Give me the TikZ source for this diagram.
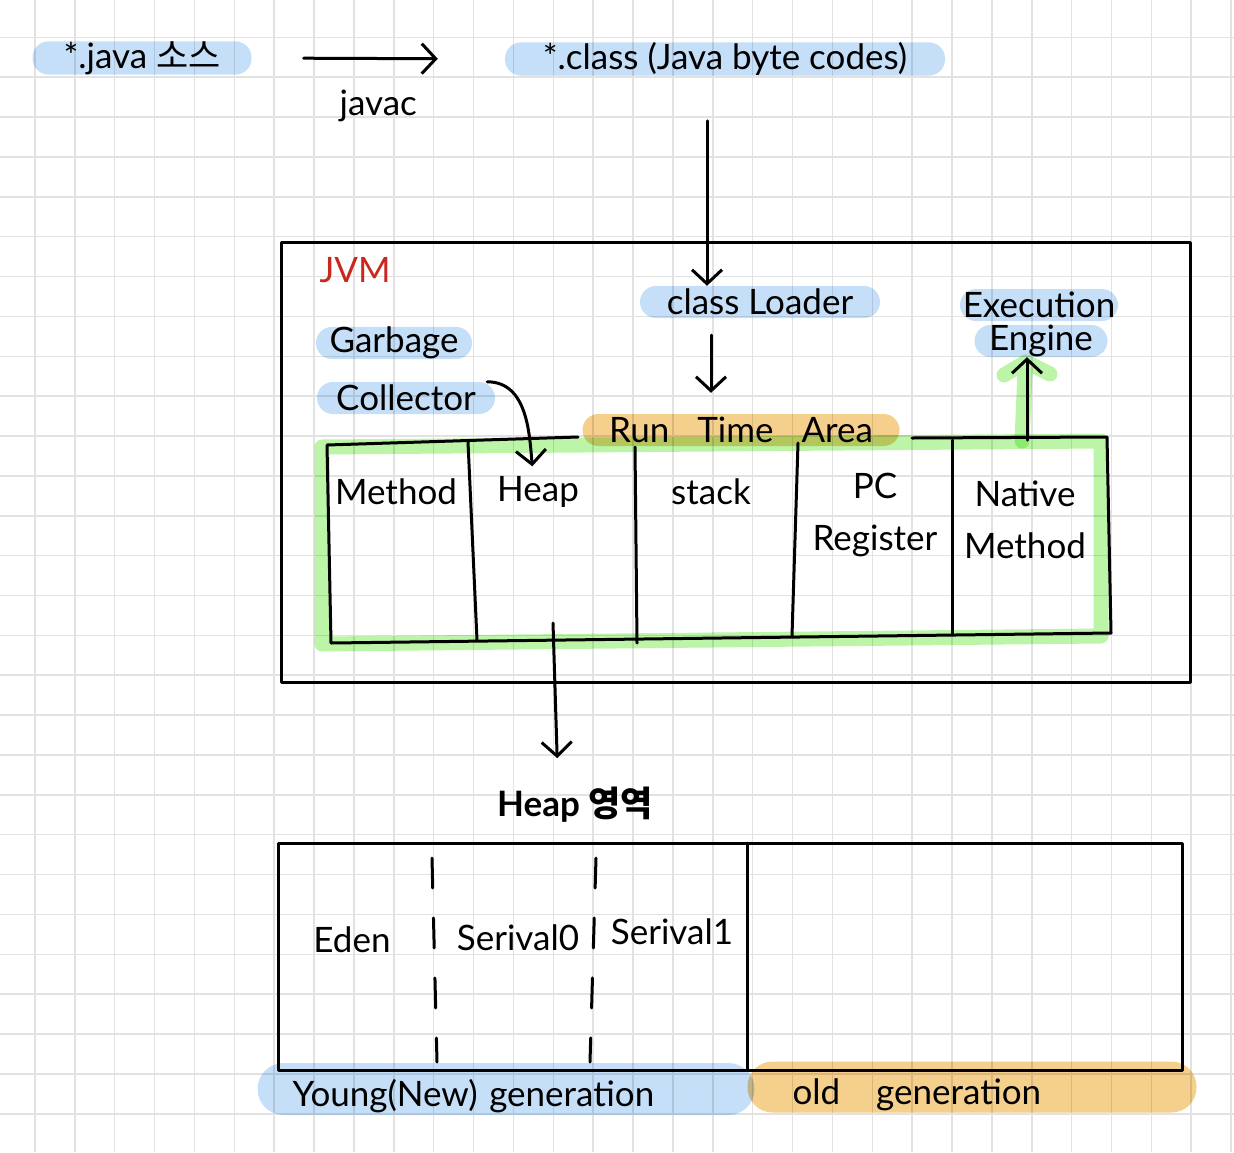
\documentclass[tikz,border=0pt]{standalone}
\usepackage{fontspec}
\setmainfont{Lato}
\newfontfamily\krfont{Noto Sans CJK KR}
\usetikzlibrary{arrows.meta}
\definecolor{markblue}{RGB}{197,223,248}
\definecolor{markorange}{RGB}{245,207,140}
\definecolor{markgreen}{RGB}{188,245,168}
\definecolor{gridgray}{RGB}{226,226,226}
\definecolor{jvmred}{RGB}{200,40,30}
\pgfdeclarelayer{gridlayer}
\pgfdeclarelayer{marklayer}
\pgfsetlayers{gridlayer,marklayer,main}
\newcommand{\hand}{\fontsize{35}{52}\selectfont}
\tikzstyle{ink}=[draw=black, line width=3pt, line cap=round, line join=round]
\tikzstyle{hand arrow}=[ink, -{Straight Barb[length=14pt, width=30pt]}]
\tikzstyle{hand text}=[font=\hand, inner sep=2pt]
\tikzstyle{blue mark}=[fill=markblue, blend mode=multiply, rounded corners=16pt, font=\hand, inner sep=0pt, minimum height=32pt]
\tikzstyle{orange mark}=[blue mark, fill=markorange]
\tikzstyle{green mark}=[draw=markgreen, line width=15pt, line cap=round, line join=round, blend mode=multiply]
\tikzstyle{grid line}=[draw=gridgray, line width=1.5pt]

\begin{document}
\begin{tikzpicture}[x=1pt, y=-1pt]
	\useasboundingbox (0,0) rectangle (1234,1152);
	\begin{pgfonlayer}{gridlayer}
		\begin{scope}
			\clip (0,0) rectangle (1234,1152);
			\foreach \k in {0,...,30} {
				\draw [style=grid line] (35+39.87*\k, 0) -- (35+39.87*\k, 1152);
				\draw [style=grid line] (0, 37.3+39.87*\k) -- (1234, 37.3+39.87*\k);
			}
		\end{scope}
	\end{pgfonlayer}
	\begin{pgfonlayer}{marklayer}
		\node [style=blue mark, minimum width=219pt] (0) at (142, 58) {*.java {\krfont 소스}};
		\node [style=blue mark, minimum width=440pt] (1) at (725, 59) {*.class (Java byte codes)};
		\node [style=blue mark, minimum width=240pt] (4) at (760, 302) {class Loader};
		\node [style=blue mark, minimum width=158pt] (5) at (1039, 305) {Execution};
		\node [style=blue mark, minimum width=133pt] (6) at (1041, 341) {Engine};
		\node [style=blue mark, minimum width=156pt] (7) at (394, 343) {Garbage};
		\node [style=blue mark, minimum width=178pt] (8) at (406, 398) {Collector};
		\draw [style=green mark] (322, 447) -- (1101, 441) -- (1101, 636) -- (322, 644) -- cycle;
		\draw [style=green mark] (1022, 441) -- (1025, 372) (1004, 375) -- (1026, 362) -- (1050, 374);
		\node [style=orange mark, minimum width=317pt] (9) at (741, 430) {Run\hspace{28pt}Time\hspace{28pt}Area};
		\node [style=blue mark, minimum height=52pt, rounded corners=26pt, text width=427pt, inner xsep=35pt, align=left, text height=40pt, text depth=6pt] (19) at (506, 1089) {Young(New) generation};
		\node [style=orange mark, minimum height=51pt, rounded corners=25pt, text width=359pt, inner xsep=45pt, align=left, text height=40pt, text depth=6pt] (20) at (972, 1087) {old\hspace{36pt}generation};
	\end{pgfonlayer}

	% JVM
	\draw [style=ink] (281, 242) rectangle (1190, 682);
	\node [style=hand text, text=jvmred] (3) at (355, 270) {JVM};

	% run time area
	\draw [style=ink] (578, 437) -- (327, 445) -- (331, 643) -- (1111, 633) -- (1107, 437) -- (912, 438);
	\draw [style=ink] (468, 442) -- (477, 640);
	\draw [style=ink] (635, 447) -- (637, 643);
	\draw [style=ink] (798, 443) -- (792, 636);
	\draw [style=ink] (952, 440) -- (952, 634);
	\node [style=hand text] (10) at (396, 492) {Method};
	\node [style=hand text] (11) at (538, 492) {Heap};
	\node [style=hand text] (12) at (711, 492) {stack};
	\node [style=hand text, align=center] (13) at (875, 515) {PC\\Register};
	\node [style=hand text, align=center] (14) at (1025, 520) {Native\\Method};
	\coordinate (21) at (1027, 440);
	\coordinate (22) at (553, 623);

	% heap
	\node [style=hand text, font=\hand\bfseries] (15) at (575, 805) {Heap {\krfont\bfseries 영역}};
	\draw [style=ink] (278, 843) rectangle (1182, 1070);
	\draw [style=ink] (747, 843) -- (747, 1070);
	\draw [style=ink, dash pattern=on 30pt off 30pt] (432, 858) -- (437, 1062);
	\draw [style=ink, dash pattern=on 30pt off 30pt] (596, 858) -- (590, 1062);
	\node [style=hand text] (16) at (352, 940) {Eden};
	\node [style=hand text] (17) at (518, 938) {Serival0};
	\node [style=hand text] (18) at (672, 932) {Serival1};

	% arrows
	\draw [style=hand arrow, shorten <=52pt, shorten >=67pt] (0.east) to node [below=27pt] (2) {\hand javac} (1.west);
	\draw [style=hand arrow, shorten <=45pt] ([xshift=-18pt]1.south) to ([xshift=-53pt]4.north);
	\draw [style=hand arrow, shorten <=17pt, shorten >=21pt] ([xshift=-49pt]4.south) to ([xshift=-30pt]9.north);
	\draw [style=hand arrow, shorten >=8pt] ([xshift=-8pt]8.north east) to [out=0, in=95] ([xshift=-5pt]11.north);
	\draw [style=hand arrow] (21) to (21 |- 6.south);
	\draw [style=hand arrow, shorten >=27pt] (22) to ([xshift=-17pt]15.north);
\end{tikzpicture}
\end{document}
